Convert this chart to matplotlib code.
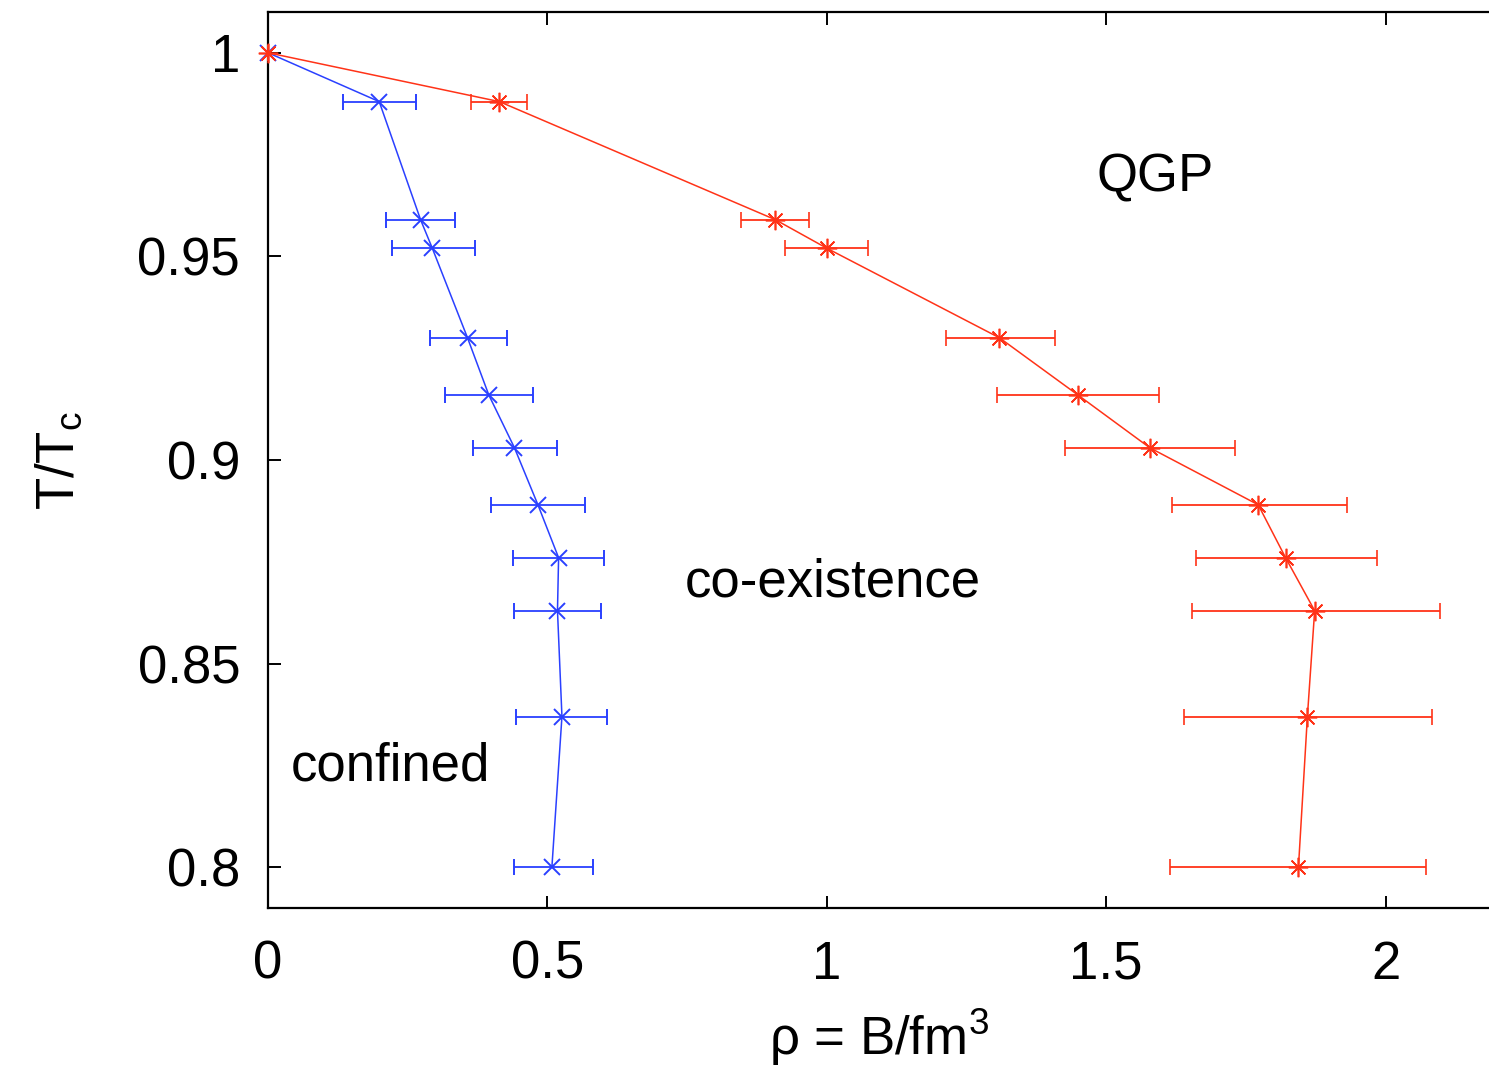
import matplotlib
matplotlib.use("Agg")
import matplotlib.pyplot as plt

plt.rcParams['font.family'] = ['Liberation Sans', 'DejaVu Sans']
plt.rcParams['mathtext.fontset'] = 'custom'
plt.rcParams['mathtext.rm'] = 'Liberation Sans'
plt.rcParams['mathtext.it'] = 'Liberation Sans'

# data
t_blue = [1.0, 0.988, 0.959, 0.952, 0.930, 0.916, 0.903, 0.889, 0.876, 0.863, 0.837, 0.800]
rho_blue = [0.0, 0.199, 0.273, 0.294, 0.357, 0.395, 0.441, 0.483, 0.520, 0.518, 0.526, 0.508]
err_blue_lo = [0.0, 0.065, 0.062, 0.072, 0.067, 0.078, 0.075, 0.084, 0.081, 0.077, 0.082, 0.068]
err_blue_hi = [0.0, 0.066, 0.062, 0.076, 0.071, 0.080, 0.077, 0.085, 0.081, 0.077, 0.080, 0.074]

t_red = [1.0, 0.988, 0.959, 0.952, 0.930, 0.916, 0.903, 0.889, 0.876, 0.863, 0.837, 0.800]
rho_red = [0.0, 0.414, 0.908, 1.000, 1.309, 1.449, 1.578, 1.772, 1.821, 1.873, 1.860, 1.844]
err_red_lo = [0.0, 0.050, 0.061, 0.075, 0.095, 0.145, 0.152, 0.155, 0.160, 0.220, 0.220, 0.230]
err_red_hi = [0.0, 0.050, 0.061, 0.074, 0.099, 0.146, 0.152, 0.159, 0.163, 0.224, 0.223, 0.228]

xticks = [0, 0.5, 1, 1.5, 2]
xticklabels = ['0', '0.5', '1', '1.5', '2']
yticks = [0.8, 0.85, 0.9, 0.95, 1.0]
yticklabels = ['0.8', '0.85', '0.9', '0.95', '1']

blue = '#2a40ff'
red = '#ff3318'

fig = plt.figure(figsize=(14.89, 10.74), dpi=100)
ax = fig.add_axes([0.18, 0.1546, 0.82, 0.8342])

ax.errorbar(rho_blue, t_blue, xerr=[err_blue_lo, err_blue_hi], color=blue,
            lw=1.1, elinewidth=1.3, capsize=6, capthick=1.3, marker='x',
            ms=12, mew=1.4, clip_on=False, zorder=3)
ax.errorbar(rho_red, t_red, xerr=[err_red_lo, err_red_hi], color=red,
            lw=1.1, elinewidth=1.3, capsize=6, capthick=1.3, marker=(8, 2, 0),
            ms=14, mew=1.2, clip_on=False, zorder=4)

ax.set_xlim(0, 2.185)
ax.set_ylim(0.79, 1.01)
ax.set_xticks(xticks)
ax.set_xticklabels(xticklabels)
ax.set_yticks(yticks)
ax.set_yticklabels(yticklabels)
ax.tick_params(axis='both', direction='in', length=9, width=1.4, labelsize=38,
               top=True, right=False)
ax.tick_params(axis='x', pad=23)
ax.tick_params(axis='y', pad=20)
for s in ['left', 'bottom', 'top']:
    ax.spines[s].set_linewidth(1.6)
ax.spines['right'].set_visible(False)

ax.set_xlabel(r'ρ = B/fm$^{3}$', fontsize=38, labelpad=12)
ax.set_ylabel(r'T/T$_{\mathrm{c}}$', fontsize=38, labelpad=38)

ax.text(1.587, 0.9694, 'QGP', fontsize=38, ha='center', va='center')
ax.text(1.01, 0.8699, 'co-existence', fontsize=38, ha='center', va='center')
ax.text(0.219, 0.8248, 'confined', fontsize=38, ha='center', va='center')

fig.savefig('out.png', dpi=100)
